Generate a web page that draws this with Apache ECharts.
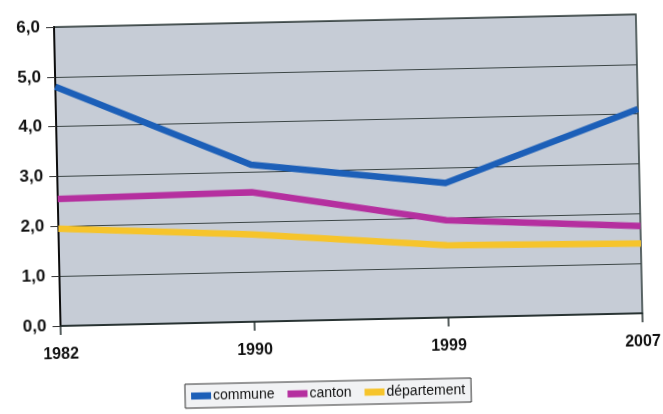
<!DOCTYPE html>
<html lang="fr">
<head>
<meta charset="utf-8">
<title>Évolution 1982–2007</title>
<script src="https://cdn.jsdelivr.net/npm/echarts@6/dist/echarts.min.js"></script>
<style>
  html, body { margin: 0; padding: 0; background: #ffffff; overflow: hidden; }
  #chart { width: 663px; height: 414px; background: #ffffff; transform: rotate(-1.25deg); transform-origin: 50% 50%; }
</style>
</head>
<body>
<div id="chart"></div>
<script>
// Census years (evenly spaced categories)
const years = ['1982', '1990', '1999', '2007'];

// Values per territorial level
const communeValues = [4.8, 3.15, 2.7, 4.1];
const cantonValues = [2.55, 2.6, 1.95, 1.75];
const departementValues = [1.95, 1.75, 1.45, 1.4];

// Y-axis tick labels (French decimal comma)
const yTickLabels = ['0,0', '1,0', '2,0', '3,0', '4,0', '5,0', '6,0'];

const seriesNames = ['commune', 'canton', 'département'];
const seriesColors = ['#1c5fb8', '#b52f9f', '#f6c42b'];
const seriesData = [communeValues, cantonValues, departementValues];

const chart = echarts.init(document.getElementById('chart'), null, { renderer: 'canvas' });

const fontFamily = '"Liberation Sans", Arial, sans-serif';

chart.setOption({
  animation: false,
  backgroundColor: '#ffffff',
  textStyle: { fontFamily: fontFamily },
  grid: {
    left: 58,
    right: 23,
    top: 21,
    bottom: 94,
    show: true,
    backgroundColor: '#c6ccd6',
    borderColor: '#2f3d3d',
    borderWidth: 1.5
  },
  legend: {
    data: seriesNames,
    left: 181,
    top: 381,
    orient: 'horizontal',
    icon: 'rect',
    itemWidth: 20,
    itemHeight: 7,
    itemGap: 13,
    padding: [5, 6],
    backgroundColor: '#f1f2f4',
    borderColor: '#333333',
    borderWidth: 1,
    textStyle: { fontSize: 14, color: '#111111', fontFamily: fontFamily, padding: [0, 0, 0, -3] }
  },
  xAxis: {
    type: 'category',
    data: years,
    boundaryGap: false,
    axisLine: { show: true, lineStyle: { color: '#1f2a2a', width: 1.5 } },
    axisTick: { show: true, length: 9, lineStyle: { color: '#1f2a2a', width: 1.5 } },
    axisLabel: { margin: 21, fontSize: 16, fontWeight: 'bold', color: '#111111', fontFamily: fontFamily },
    splitLine: { show: false }
  },
  yAxis: {
    type: 'value',
    min: 0,
    max: 6,
    interval: 1,
    axisLine: { show: true, lineStyle: { color: '#0d0d0d', width: 2 } },
    axisTick: { show: true, length: 8, lineStyle: { color: '#333333', width: 1 } },
    axisLabel: {
      margin: 14,
      fontSize: 17,
      fontWeight: 'bold',
      color: '#111111',
      fontFamily: fontFamily,
      formatter: function (v) { return yTickLabels[Math.round(v)]; }
    },
    splitLine: { show: true, lineStyle: { color: '#3c4646', width: 1 } }
  },
  series: seriesNames.map(function (name, i) {
    return {
      name: name,
      type: 'line',
      data: seriesData[i],
      symbol: 'none',
      showSymbol: false,
      color: seriesColors[i],
      lineStyle: { color: seriesColors[i], width: 6.5, join: 'round' },
      z: 3 - i
    };
  })
});
</script>
</body>
</html>
